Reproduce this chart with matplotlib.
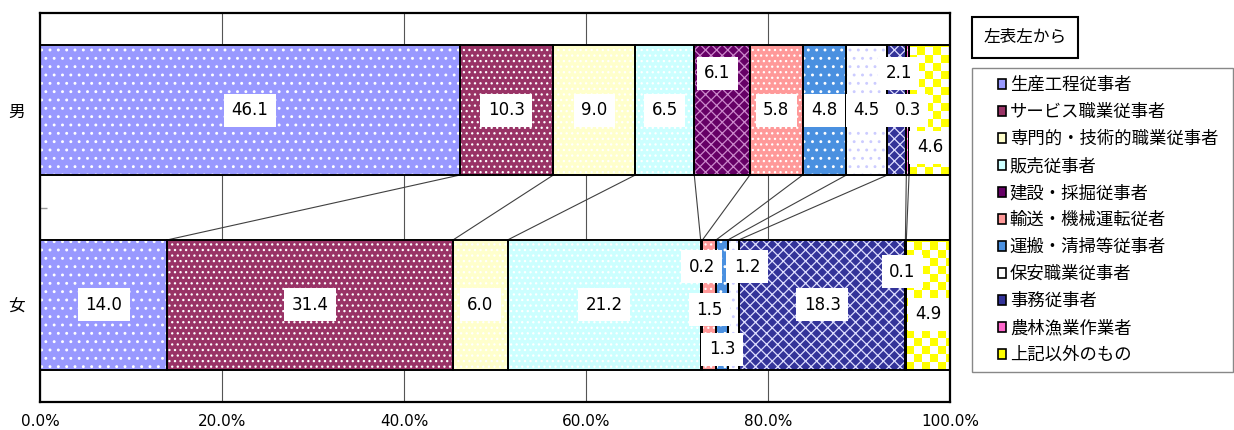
import numpy as np
import matplotlib
matplotlib.use("Agg")
import matplotlib.pyplot as plt
from matplotlib.patches import Patch, Rectangle
from matplotlib.colors import ListedColormap

plt.rcParams['font.family'] = ['Noto Sans CJK JP', 'DejaVu Sans']
plt.rcParams['hatch.linewidth'] = 0.9

# ---------------- data ----------------
categories = ['男', '女']
series_names = ['生産工程従事者', 'サービス職業従事者', '専門的・技術的職業従事者', '販売従事者',
                '建設・採掘従事者', '輸送・機械運転従者', '運搬・清掃等従事者', '保安職業従事者',
                '事務従事者', '農林漁業作業者', '上記以外のもの']
male = [46.1, 10.3, 9.0, 6.5, 6.1, 5.8, 4.8, 4.5, 2.1, 0.3, 4.6]
female = [14.0, 31.4, 6.0, 21.2, 0.2, 1.5, 1.3, 1.2, 18.3, 0.1, 4.9]
xticks = [0, 20, 40, 60, 80, 100]
xtick_labels = ['0.0%', '20.0%', '40.0%', '60.0%', '80.0%', '100.0%']
legend_title = '左表左から'

# ---------------- styles ----------------
face = ['#9999FF', '#993366', '#FFFFCC', '#CCFFFF', '#660066', '#FF9999',
        '#4A90E0', '#FFFFFF', '#333399', '#FF66CC', '#FFFF00']
hatch = ['..', '...', '...', '...', 'xxx', '...', '..', '..', 'xxx', '...', None]
hatch_col = ['white', 'white', 'white', 'white', '#CC88CC', 'white', 'white', '#CCCCFF',
             '#DDDDFF', 'white', None]
# label offsets (dx in %, dy in category units)
male_off = {4: (-0.5, 0.19), 8: (0.2, 0.19), 9: (0, 0.0), 10: (0, -0.19)}
female_off = {4: (0, 0.195), 5: (0, -0.025), 6: (0, -0.23), 7: (1.5, 0.195), 9: (-0.4, 0.17), 10: (0, -0.05)}

W, H = 1234, 430
fig = plt.figure(figsize=(W / 100, H / 100), dpi=100)
ax = fig.add_axes([40 / W, 1 - 402 / H, 910 / W, 389 / H])

ypos = {'男': 1, '女': 0}
bh = 0.667
data = {'男': male, '女': female}

ax.set_xlim(0, 100)
ax.set_ylim(-0.5, 1.5)

for cat in categories:
    vals = np.array(data[cat])
    lefts = np.concatenate([[0], np.cumsum(vals)[:-1]])
    y = ypos[cat]
    for i, (v, l) in enumerate(zip(vals, lefts)):
        base = ax.barh(y, v, left=l, height=bh, color=face[i], linewidth=0, zorder=2)[0]
        if hatch[i]:
            ax.barh(y, v, left=l, height=bh, facecolor='none', edgecolor=hatch_col[i],
                    hatch=hatch[i], linewidth=0, zorder=2.5)
        else:
            # checkerboard pattern clipped to the bar
            x0, x1 = l, l + v
            y0, y1 = y - bh / 2, y + bh / 2
            p0 = ax.transData.transform((x0, y0))
            p1 = ax.transData.transform((x1, y1))
            nx = max(1, int(round(abs(p1[0] - p0[0]) / 8)))
            ny = max(1, int(round(abs(p1[1] - p0[1]) / 8)))
            chk = (np.add.outer(np.arange(ny), np.arange(nx)) % 2)
            im = ax.imshow(chk, extent=(x0, x0 + nx * 8 * (x1 - x0) / abs(p1[0] - p0[0]), y0,
                                        y0 + ny * 8 * (y1 - y0) / abs(p1[1] - p0[1])),
                           cmap=ListedColormap(['#FFFF00', 'white']), interpolation='nearest',
                           aspect='auto', zorder=2.4, origin='lower')
            im.set_clip_path(base)
        ax.barh(y, v, left=l, height=bh, facecolor='none', edgecolor='black',
                linewidth=1.4, zorder=3)
        offs = male_off if cat == '男' else female_off
        dx, dy = offs.get(i, (0, 0))
        ax.text(l + v / 2 + dx, y + dy, f'{v:.1f}', ha='center', va='center',
                fontsize=12, family='DejaVu Sans', zorder=5,
                bbox=dict(boxstyle='square,pad=0.45', fc='white', ec='none'))

ax.set_xlim(0, 100)
ax.set_ylim(-0.5, 1.5)

# series lines
cm = np.cumsum(male)[:-1]
cf = np.cumsum(female)[:-1]
for a, b in zip(cm, cf):
    ax.plot([a, b], [1 - bh / 2, 0 + bh / 2], color='#404040', lw=0.8, zorder=1.5)

# grid
ax.set_xticks(xticks)
ax.set_xticklabels(xtick_labels, family='DejaVu Sans', fontsize=11)
ax.xaxis.grid(True, color='#555555', lw=0.8, zorder=0)
ax.set_axisbelow(True)
ax.tick_params(axis='x', length=0, pad=9)
ax.set_yticks([ypos[c] for c in categories])
ax.set_yticklabels(categories, fontsize=12)
ax.tick_params(axis='y', length=0, pad=11)
ax.set_yticks([0.5], minor=True)
ax.tick_params(axis='y', which='minor', direction='in', length=5, color='#999999', width=1)
for s in ax.spines.values():
    s.set_linewidth(1.6)
    s.set_color('black')
    s.set_zorder(6)

# legend
fig.patches.append(Rectangle((972 / W, 1 - 372 / H), (1233 - 972) / W, (372 - 68) / H,
                             transform=fig.transFigure, fc='white', ec='#888888', lw=1))
handles = [Patch(facecolor=c, edgecolor='black', linewidth=1.2) for c in face]
leg = fig.legend(handles, series_names, loc='upper left', bbox_to_anchor=(998 / W, 1 - 76 / H),
                 frameon=False, fontsize=12.5, handlelength=0.48, handleheight=0.48,
                 handletextpad=0.2, labelspacing=0.52, borderpad=0, borderaxespad=0)

fig.text(1025 / W, 1 - 37.5 / H, legend_title, ha='center', va='center', fontsize=12,
         bbox=dict(boxstyle='square,pad=0.7', fc='white', ec='black', lw=1.5))

fig.savefig('out.png', dpi=100)
